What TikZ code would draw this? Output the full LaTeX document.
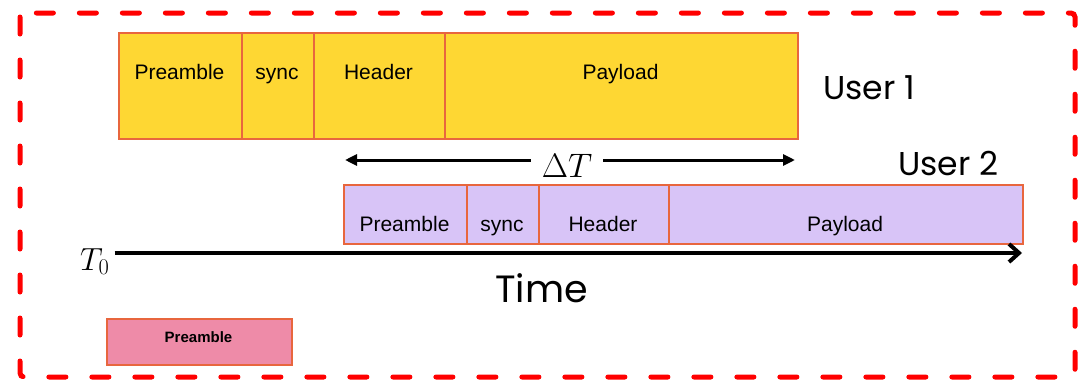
\documentclass[tikz,border=0pt]{standalone}
\usepackage{fix-cm}
\usepackage[no-math]{fontspec}
\setmainfont{Liberation Sans}
\newfontfamily\gothic{Poppins}
\usetikzlibrary{arrows.meta}
\definecolor{slotline}{RGB}{232,102,62}
\definecolor{userone}{RGB}{254,215,51}
\definecolor{usertwo}{RGB}{216,196,247}
\definecolor{pinkslot}{RGB}{238,139,168}
\definecolor{dashred}{RGB}{255,0,0}
\begin{document}
\begin{tikzpicture}[x=1pt,y=-1pt]
		\tikzstyle{every node}+=[inner sep=0pt]
		\tikzstyle{slot}=[draw=slotline,line width=1.5pt,anchor=north west]
		\tikzstyle{lbl}=[anchor=base,font=\fontsize{21}{25}\selectfont]
		\tikzstyle{usr}=[anchor=base west,font=\gothic\fontsize{33}{38}\selectfont]
		\useasboundingbox (0,0) rectangle (1081,380);
		\draw [dashred,line width=5pt,line cap=round,dash pattern=on 17pt off 26pt,rounded corners=4pt] (20,13) rectangle (1075,377);
		\node [slot,fill=userone,minimum width=123pt,minimum height=106pt] (pre1) at (118,32) {};
		\node [slot,fill=userone,minimum width=72pt,minimum height=106pt] (sync1) at (241,32) {};
		\node [slot,fill=userone,minimum width=131pt,minimum height=106pt] (head1) at (313,32) {};
		\node [slot,fill=userone,minimum width=353pt,minimum height=106pt] (pay1) at (444,32) {};
		\node [lbl] (pre1t) at (179.5,79) {Preamble};
		\node [lbl] (sync1t) at (277,79) {sync};
		\node [lbl] (head1t) at (378.5,79) {Header};
		\node [lbl] (pay1t) at (620.5,79) {Payload};
		\node [usr] (user1) at (823,99) {User 1};
		\node [slot,fill=usertwo,minimum width=123pt,minimum height=59pt] (pre2) at (343,184) {};
		\node [slot,fill=usertwo,minimum width=72pt,minimum height=59pt] (sync2) at (466,184) {};
		\node [slot,fill=usertwo,minimum width=130pt,minimum height=59pt] (head2) at (538,184) {};
		\node [slot,fill=usertwo,minimum width=354pt,minimum height=59pt] (pay2) at (668,184) {};
		\node [lbl] (pre2t) at (404.5,231) {Preamble};
		\node [lbl] (sync2t) at (502,231) {sync};
		\node [lbl] (head2t) at (603,231) {Header};
		\node [lbl] (pay2t) at (845,231) {Payload};
		\node [usr] (user2) at (898,175) {User 2};
		\node [anchor=base,inner xsep=11pt,font=\fontsize{34}{38}\selectfont] (dt) at (567,177) {$\Delta T$};
		\coordinate (dtl) at (345,160);
		\coordinate (dtr) at (795,160);
		\draw [line width=3pt,-{Triangle[length=12pt,width=11pt]}] (dtl -| dt.west) -- (dtl);
		\draw [line width=3pt,-{Triangle[length=12pt,width=11pt]}] (dtr -| dt.east) -- (dtr);
		\node [anchor=base west,inner xsep=5pt,font=\fontsize{32}{36}\selectfont] (t0) at (75,270) {$T_0$};
		\coordinate (tend) at (1022,253);
		\draw [line width=4pt,-{Straight Barb[length=10pt,width=18pt]}] (tend -| t0.east) -- (tend);
		\node [usr,font=\gothic\fontsize{38}{42}\selectfont] (time) at (495,302) {Time};
		\node [slot,fill=pinkslot,minimum width=185pt,minimum height=46pt] (pre0) at (106,318) {};
		\node [anchor=base,font=\bfseries\fontsize{15}{18}\selectfont] (pre0t) at (198.5,342) {Preamble};
	\end{tikzpicture}
\end{document}
